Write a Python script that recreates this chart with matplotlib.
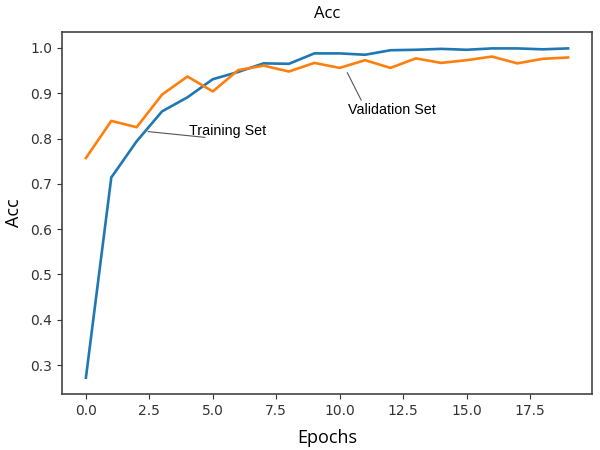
import matplotlib
matplotlib.use("Agg")
import matplotlib.pyplot as plt

epochs = list(range(20))
train_acc = [0.272, 0.714, 0.794, 0.860, 0.891, 0.931, 0.947, 0.966, 0.965, 0.988,
             0.988, 0.985, 0.995, 0.996, 0.998, 0.996, 0.999, 0.999, 0.997, 0.999]
val_acc = [0.757, 0.839, 0.825, 0.897, 0.937, 0.904, 0.951, 0.961, 0.948, 0.967,
           0.956, 0.973, 0.956, 0.977, 0.967, 0.973, 0.981, 0.966, 0.976, 0.979]

fig = plt.figure(figsize=(6, 4.5), dpi=100)
ax = fig.add_axes([0.103, 0.124, 0.884, 0.805])

ax.plot(epochs, train_acc, color="#1f77b4", lw=1.9)
ax.plot(epochs, val_acc, color="#ff7f0e", lw=1.9)

# annotation leaders
ax.annotate("", xy=(2.34, 0.816), xytext=(4.8, 0.802),
            arrowprops=dict(arrowstyle="-", color="#555555", lw=0.8))
ax.text(5.6, 0.817, "Training Set", ha="center", va="center",
        fontsize=10.3, family="Liberation Sans")
ax.annotate("", xy=(10.25, 0.951), xytext=(10.9, 0.879),
            arrowprops=dict(arrowstyle="-", color="#555555", lw=0.8))
ax.text(12.07, 0.862, "Validation Set", ha="center", va="center",
        fontsize=10.3, family="Liberation Sans")

ax.set_title("Acc", fontsize=12, family="Open Sans", pad=10)
ax.set_xlabel("Epochs", fontsize=13, family="Open Sans", labelpad=8)
ax.set_ylabel("Acc", fontsize=13, family="Open Sans", labelpad=5)

for s in ax.spines.values():
    s.set_color("#444444")
    s.set_linewidth(1.2)
ax.tick_params(colors="#333333", labelsize=10)

fig.savefig("out.png", dpi=100)
